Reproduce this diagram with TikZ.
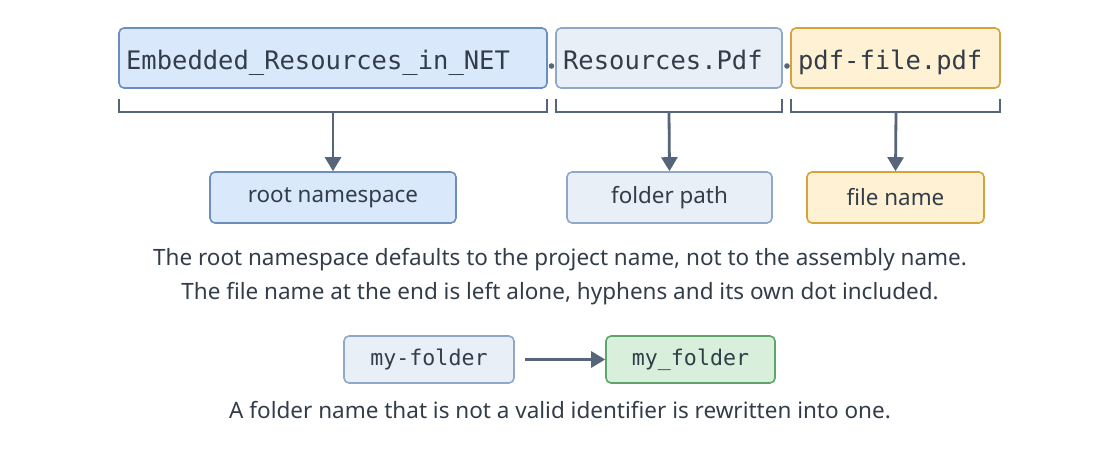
\documentclass[tikz,border=0pt]{standalone}
\usepackage{fontspec}
\setmainfont{Noto Sans}
\newfontfamily\mono{DejaVu Sans Mono}
\usetikzlibrary{arrows.meta}
\definecolor{txt}{HTML}{333D4A}
\definecolor{ln}{HTML}{56657A}
\definecolor{bF}{HTML}{DAE8FC}\definecolor{bS}{HTML}{6C8EBF}
\definecolor{lF}{HTML}{E9EFF7}\definecolor{lS}{HTML}{8FA8C8}
\definecolor{oF}{HTML}{FFF2D4}\definecolor{oS}{HTML}{D6A23A}
\definecolor{gF}{HTML}{D8EFDB}\definecolor{gS}{HTML}{5DA56B}
\begin{document}
\begin{tikzpicture}[x=1pt,y=-1pt,
 box/.style={rounded corners=5pt,line width=1.6pt,text=txt},
 big/.style={box,font=\mono\fontsize{25.5}{30}\selectfont},
 lab/.style={box,font=\fontsize{22.4}{26}\selectfont},
 sm/.style={box,font=\mono\fontsize{21.6}{26}\selectfont},
 br/.style={ln,line width=2.8pt},
 ar/.style={ln,line width=2.8pt,-{Triangle[length=14pt,width=16pt]}},
 note/.style={text=txt,font=\fontsize{22.5}{26}\selectfont}]
\useasboundingbox (0,0) rectangle (1120,452);
\node[big,draw=bS,fill=bF,minimum width=428pt,minimum height=60pt] (a) at (333,58) {};
\node[big,draw=lS,fill=lF,minimum width=226pt,minimum height=60pt] (b) at (669,58) {};
\node[big,draw=oS,fill=oF,minimum width=209pt,minimum height=60pt] (c) at (895.5,58) {};
\node[big,anchor=base west] (ta) at (122,70) {Embedded\_Resources\_in\_NET};
\node[big,anchor=base west] (tb) at (559,70) {Resources.Pdf};
\node[big,anchor=base west] (tc) at (794,70) {pdf-file.pdf};
\fill[ln] (551.5,66) circle (2.8pt) (787,66) circle (2.8pt);
\coordinate (ma) at (333,112); \coordinate (mb) at (669,112); \coordinate (mc) at (896,112);
\draw[br] (119,99) -- (119,112) -- (547,112) -- (547,99);
\draw[br] (556,99) -- (556,112) -- (782,112) -- (782,99);
\draw[br] (791,99) -- (791,112) -- (1000,112) -- (1000,99);
\node[lab,draw=bS,fill=bF,minimum width=246pt,minimum height=51pt] (ra) at (333,197.5) {root namespace};
\node[lab,draw=lS,fill=lF,minimum width=205pt,minimum height=51pt] (rb) at (669.5,197.5) {folder path};
\node[lab,draw=oS,fill=oF,minimum width=177pt,minimum height=51pt] (rc) at (895.5,197.5) {file name};
\draw[ar] (ma) -- (ra.north); \draw[ar] (mb) -- (rb.north); \draw[ar] (mc) -- (rc.north);
\node[note] (n1) at (560,260) {The root namespace defaults to the project name, not to the assembly name.};
\node[note] (n2) at (560,294) {The file name at the end is left alone, hyphens and its own dot included.};
\node[sm,draw=lS,fill=lF,minimum width=170pt,minimum height=47pt] (f1) at (429,359.5) {my-folder};
\node[sm,draw=gS,fill=gF,minimum width=169pt,minimum height=47pt] (f2) at (690.5,359.5) {my\_folder};
\draw[ar] (f1.east)++(10,0) -- (f2.west);
\node[note] (n3) at (560,410) {A folder name that is not a valid identifier is rewritten into one.};
\end{tikzpicture}
\end{document}
